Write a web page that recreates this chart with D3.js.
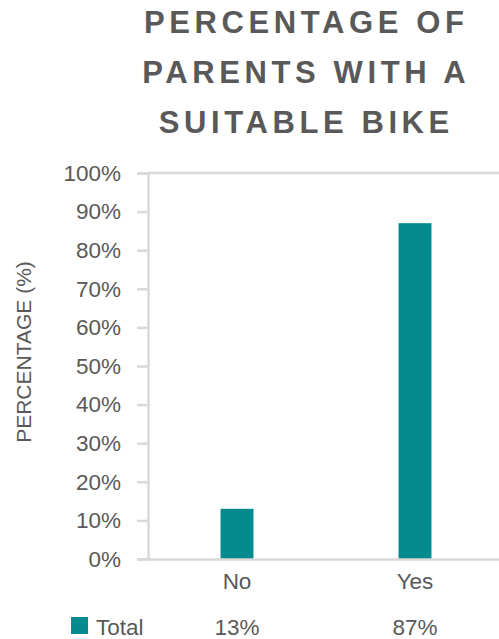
<!DOCTYPE html>
<html>
<head>
<meta charset="utf-8">
<script src="https://cdn.jsdelivr.net/npm/d3@7"></script>
<style>
  body { margin: 0; background: #fff; }
  svg { display: block; font-family: "Liberation Sans", Arial, sans-serif; }
</style>
</head>
<body>
<svg class="chart"></svg>
<script>
// Chart data
let categories = ['No', 'Yes'];
let values = [13, 87];
let valueLabels = ['13%', '87%'];
let seriesName = 'Total';
let yTicks = [0, 10, 20, 30, 40, 50, 60, 70, 80, 90, 100];
let titleLines = ['PERCENTAGE OF', 'PARENTS WITH A', 'SUITABLE BIKE'];

let W = 499, H = 639;
let textColor = '#595959', axisColor = '#d9d9d9', barColor = '#038b90';

// plot area (right edge runs past the window, as in the reference)
let plot = {left: 148, right: 504, top: 173, bottom: 559};

let svg = d3.select('.chart')
  .attr('width', W)
  .attr('height', H);

let x = d3.scaleBand()
  .domain(categories)
  .range([plot.left, plot.right])
  .padding(0);

let y = d3.scaleLinear()
  .domain([0, 100])
  .range([plot.bottom, plot.top]);

let barWidth = x.bandwidth() * 0.185;

// Title
let spacing = 4.6;
svg.append('g')
  .selectAll('text')
  .data(titleLines)
  .enter().append('text')
  .attr('x', 304 + spacing / 2)
  .attr('y', (d, i) => 33 + i * 50)
  .attr('text-anchor', 'middle')
  .attr('font-size', 31)
  .attr('font-weight', 'bold')
  .attr('letter-spacing', spacing)
  .attr('fill', textColor)
  .text((d) => d);

// top border of plot area
svg.append('line')
  .attr('x1', plot.left).attr('x2', plot.right)
  .attr('y1', plot.top).attr('y2', plot.top)
  .attr('stroke', axisColor)
  .attr('stroke-width', 2.5);

// Bars
svg.append('g')
  .selectAll('rect')
  .data(values)
  .enter().append('rect')
  .attr('x', (d, i) => x(categories[i]) + (x.bandwidth() - barWidth) / 2)
  .attr('y', (d) => y(d))
  .attr('width', barWidth)
  .attr('height', (d) => y(0) - y(d))
  .attr('fill', barColor);

// Y axis
let yAxis = svg.append('g')
  .attr('transform', 'translate(' + plot.left + ',0)')
  .call(d3.axisLeft(y).tickValues(yTicks).tickFormat((d) => d + '%').tickSize(11).tickPadding(16));
yAxis.select('.domain').attr('stroke', axisColor).attr('stroke-width', 2.5);
yAxis.selectAll('.tick line').attr('stroke', axisColor).attr('stroke-width', 2.5);
yAxis.selectAll('.tick text')
  .attr('font-size', 22.5)
  .attr('font-family', '"Liberation Sans", Arial, sans-serif')
  .attr('fill', textColor);

// X axis (baseline + category labels)
let xAxis = svg.append('g')
  .attr('transform', 'translate(0,' + plot.bottom + ')')
  .call(d3.axisBottom(x).tickSize(0).tickPadding(14));
xAxis.select('.domain').attr('stroke', axisColor).attr('stroke-width', 2.5);
xAxis.selectAll('.tick text')
  .attr('font-size', 22.5)
  .attr('font-family', '"Liberation Sans", Arial, sans-serif')
  .attr('fill', textColor);

// Y axis title
svg.append('text')
  .attr('transform', 'translate(31,352) rotate(-90)')
  .attr('text-anchor', 'middle')
  .attr('font-size', 21)
  .attr('fill', textColor)
  .text('PERCENTAGE (%)');

// Data table row
let tableY = 635;
svg.append('rect')
  .attr('x', 71)
  .attr('y', 617)
  .attr('width', 17)
  .attr('height', 17)
  .attr('fill', barColor);
svg.append('text')
  .attr('x', 96)
  .attr('y', tableY)
  .attr('font-size', 22.5)
  .attr('fill', textColor)
  .text(seriesName);
svg.append('g')
  .selectAll('text')
  .data(valueLabels)
  .enter().append('text')
  .attr('x', (d, i) => x(categories[i]) + x.bandwidth() / 2)
  .attr('y', tableY)
  .attr('text-anchor', 'middle')
  .attr('font-size', 22.5)
  .attr('fill', textColor)
  .text((d) => d);
</script>
</body>
</html>
